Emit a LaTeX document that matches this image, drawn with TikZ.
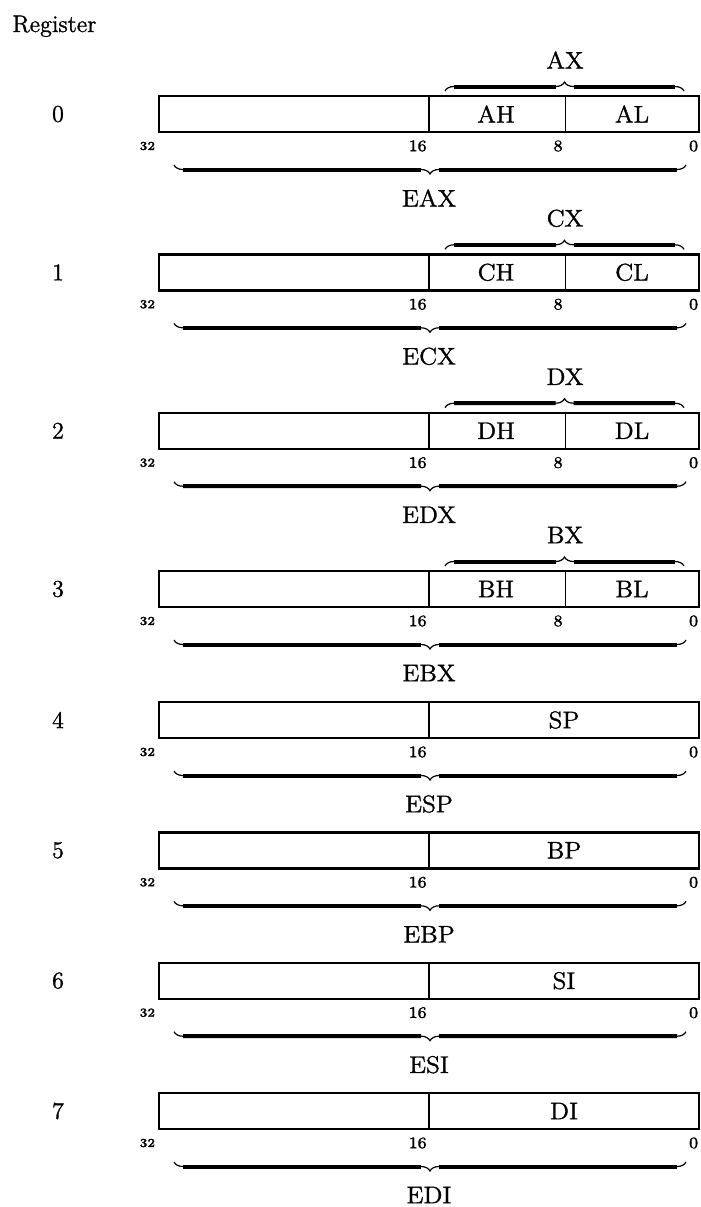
\documentclass[tikz,border=0pt]{standalone}
\usepackage{graphicx}
\usetikzlibrary{decorations.pathreplacing,calc}
\newcommand\heavy[1]{\special{pdf:literal direct 0.15 w 2 Tr}#1\special{pdf:literal direct 0 Tr}}
\newcommand\wlbl[1]{\heavy{\scalebox{1.06}[1]{#1}}}
\newcommand\wbit[1]{\heavy{\scalebox{1.05}[1]{#1}}}
\begin{document}
\begin{tikzpicture}[x=0.5pt,y=-0.5pt,
  outer/.style={line width=1.2pt},
  divline/.style={line width=0.8pt},
  lbl/.style={font=\fontsize{12}{14}\selectfont, inner sep=0pt},
  rownum/.style={font=\fontsize{12}{14}\selectfont, inner sep=0pt},
  ttl/.style={font=\fontsize{12}{14}\selectfont, inner sep=0pt, anchor=base west},
  bitnum/.style={font=\fontsize{8}{9}\selectfont, inner sep=0pt, anchor=east},
  bitsmall/.style={font=\fontsize{6}{7}\selectfont, inner sep=0pt, anchor=east},
  overbr/.style={decorate, decoration={brace, amplitude=4.5pt}, line width=0.6pt},
  underbr/.style={decorate, decoration={brace, amplitude=4.5pt, mirror}, line width=0.6pt},
  bar/.style={line width=2pt}]
\useasboundingbox (0,0) rectangle (701,1207);
\node[ttl] (title) at (12,32) {\heavy{Register}};
% rows with 8-bit halves
\foreach \i/\T/\hi/\lo/\w/\e in {0/96/AH/AL/AX/EAX, 1/254.3/CH/CL/CX/ECX, 2/412.7/DH/DL/DX/EDX, 3/571/BH/BL/BX/EBX} {
  \node[rownum] (n\i) at (58,\T+18) {\heavy{\i}};
  \coordinate (tl\i) at (159,\T);
  \coordinate (br\i) at (699,\T+36);
  \draw[outer] (tl\i) rectangle (br\i);
  \coordinate (d16t\i) at (429,\T);
  \coordinate (d16b\i) at (429,\T+36);
  \coordinate (d8t\i) at (565.5,\T);
  \coordinate (d8b\i) at (565.5,\T+36);
  \draw[divline] (d16t\i) -- (d16b\i);
  \draw[divline] (d8t\i) -- (d8b\i);
  \node[lbl] (hi\i) at (496,\T+18) {\wlbl{\hi}};
  \node[lbl] (lo\i) at (632,\T+18) {\wlbl{\lo}};
  \node[bitsmall] (b32r\i) at (155.5,\T+50) {\wbit{32}};
  \node[bitnum] (b16r\i) at (427,\T+50) {\wbit{16}};
  \node[bitnum] (b8r\i) at (563,\T+50) {\wbit{8}};
  \node[bitnum] (b0r\i) at (698.5,\T+50) {\wbit{0}};
  % over brace
  \coordinate (oa\i) at (445,\T-5);
  \coordinate (ob\i) at (684,\T-5);
  \coordinate (om\i) at ($(oa\i)!0.5!(ob\i)$);
  \draw[overbr] (oa\i) -- (ob\i);
  \draw[bar] ($(oa\i)+(9,-4.5)$) -- ($(om\i)+(-9,-4.5)$);
  \draw[bar] ($(om\i)+(9,-4.5)$) -- ($(ob\i)+(-9,-4.5)$);
  \node[lbl] (w\i) at (565,\T-36) {\wlbl{\w}};
  % under brace
  \coordinate (ua\i) at (174,\T+69);
  \coordinate (ub\i) at (686,\T+69);
  \coordinate (um\i) at ($(ua\i)!0.5!(ub\i)$);
  \draw[underbr] (ua\i) -- (ub\i);
  \draw[bar] ($(ua\i)+(9,4.5)$) -- ($(um\i)+(-9,4.5)$);
  \draw[bar] ($(um\i)+(9,4.5)$) -- ($(ub\i)+(-9,4.5)$);
  \node[lbl] (e\i) at (429,\T+102) {\wlbl{\e}};
}
% rows with 16-bit halves only
\foreach \i/\T/\lo/\e in {4/702/SP/ESP, 5/832.3/BP/EBP, 6/962.7/SI/ESI, 7/1093/DI/EDI} {
  \node[rownum] (n\i) at (58,\T+18) {\heavy{\i}};
  \coordinate (tl\i) at (159,\T);
  \coordinate (br\i) at (699,\T+36);
  \draw[outer] (tl\i) rectangle (br\i);
  \coordinate (d16t\i) at (429,\T);
  \coordinate (d16b\i) at (429,\T+36);
  \draw[divline] (d16t\i) -- (d16b\i);
  \node[lbl] (lo\i) at (564,\T+18) {\wlbl{\lo}};
  \node[bitsmall] (b32r\i) at (155.5,\T+50) {\wbit{32}};
  \node[bitnum] (b16r\i) at (427,\T+50) {\wbit{16}};
  \node[bitnum] (b0r\i) at (698.5,\T+50) {\wbit{0}};
  \coordinate (ua\i) at (174,\T+69);
  \coordinate (ub\i) at (686,\T+69);
  \coordinate (um\i) at ($(ua\i)!0.5!(ub\i)$);
  \draw[underbr] (ua\i) -- (ub\i);
  \draw[bar] ($(ua\i)+(9,4.5)$) -- ($(um\i)+(-9,4.5)$);
  \draw[bar] ($(um\i)+(9,4.5)$) -- ($(ub\i)+(-9,4.5)$);
  \node[lbl] (e\i) at (429,\T+102) {\wlbl{\e}};
}
\end{tikzpicture}
\end{document}
